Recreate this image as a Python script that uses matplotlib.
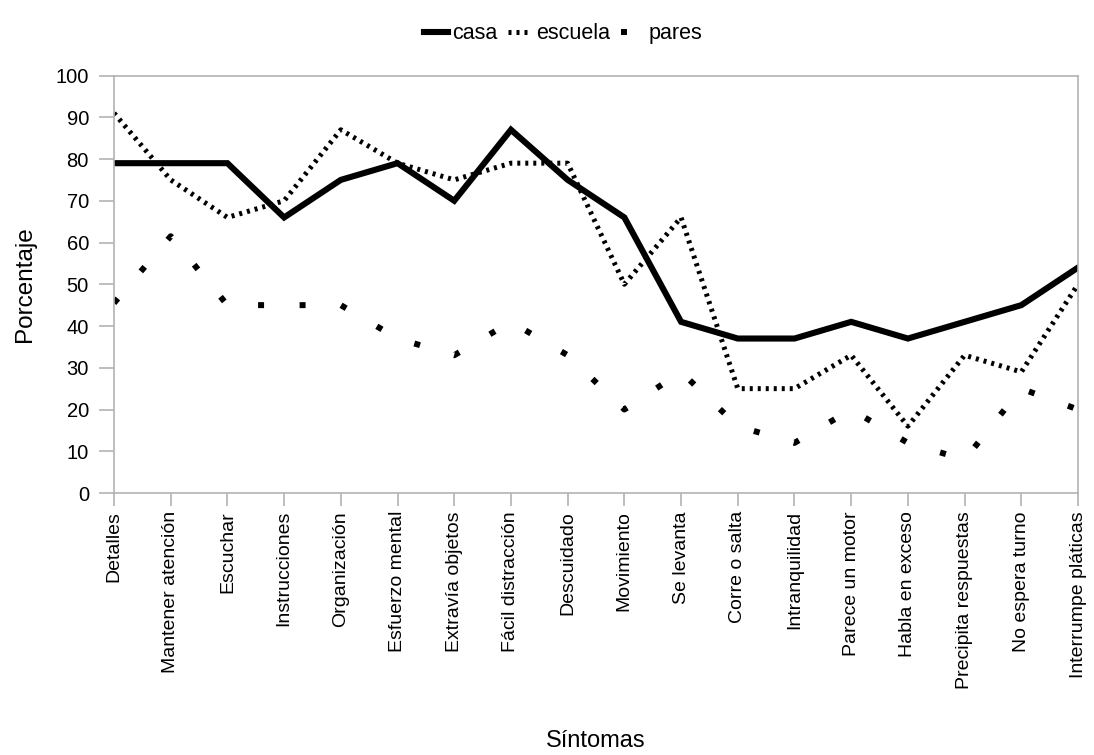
import matplotlib
matplotlib.use("Agg")
from matplotlib import pyplot as plt

plt.rcParams["font.family"] = ["Liberation Sans", "DejaVu Sans"]

sintomas = [
    "Detalles", "Mantener atención", "Escuchar", "Instrucciones", "Organización",
    "Esfuerzo mental", "Extravía objetos", "Fácil distracción", "Descuidado",
    "Movimiento", "Se levanta", "Corre o salta", "Intranquilidad",
    "Parece un motor", "Habla en exceso", "Precipita respuestas",
    "No espera turno", "Interrumpe pláticas",
]
casa = [79, 79, 79, 66, 75, 79, 70, 87, 75, 66, 41, 37, 37, 41, 37, 41, 45, 54]
escuela = [91, 75, 66, 70, 87, 79, 75, 79, 79, 50, 66, 25, 25, 33, 16, 33, 29, 50]
pares = [45.5, 61.5, 45, 45, 45, 37, 33, 41, 33, 20, 29, 16, 12, 20, 12, 8, 25, 20]

fig = plt.figure(figsize=(10.94, 7.55), dpi=100)
ax = fig.add_axes([0.1042, 0.347, 0.8812, 0.553])

x = list(range(len(sintomas)))
ax.plot(x, casa, color="black", linewidth=4.4, solid_joinstyle="miter", label="casa")
ax.plot(x, escuela, color="black", linewidth=3.6, dash_capstyle="butt",
        linestyle=(0, (0.6, 1.0)), label="escuela")
ax.plot(x, pares, color="black", linewidth=4.3, dash_capstyle="butt",
        linestyle=(0, (1, 5.95)), label="pares")

ax.set_xlim(0, len(sintomas) - 1)
ax.set_ylim(0, 100)
ax.set_yticks(range(0, 101, 10))
ax.set_xticks(x)
ax.set_xticklabels(sintomas, rotation=90, fontsize=14)
ax.tick_params(axis="y", labelsize=14.5, length=11, color="#b3b3b3", width=1.2, pad=7)
ax.tick_params(axis="x", length=9, color="#b3b3b3", width=1.2, pad=4)
for s in ax.spines.values():
    s.set_color("#b3b3b3")
    s.set_linewidth(1.2)

ax.set_xlabel("Síntomas", fontsize=17, labelpad=30)
ax.set_ylabel("Porcentaje", fontsize=17.5, labelpad=14)

fig.legend(loc="upper center", bbox_to_anchor=(0.515, 0.995), ncol=3, frameon=False,
           fontsize=15.5, handlelength=1.1, handletextpad=0.2, columnspacing=0.5)

fig.savefig("out.png", dpi=100)
